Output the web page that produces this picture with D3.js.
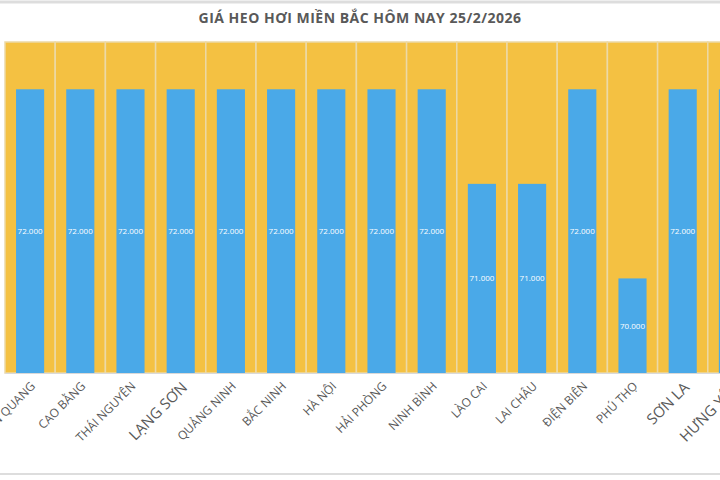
<!DOCTYPE html>
<html>
<head>
<meta charset="utf-8">
<script src="https://cdnjs.cloudflare.com/ajax/libs/d3/7.8.5/d3.min.js"></script>
<style>
  body { margin: 0; background: #fff; }
  svg { display: block; font-family: "Open Sans", "Noto Sans", sans-serif; }
</style>
</head>
<body>
<div id="chart"></div>
<script>
    const title = "GIÁ HEO HƠI MIỀN BẮC HÔM NAY 25/2/2026";
    const provinces = ["TUYÊN QUANG", "CAO BẰNG", "THÁI NGUYÊN", "LẠNG SƠN", "QUẢNG NINH",
        "BẮC NINH", "HÀ NỘI", "HẢI PHÒNG", "NINH BÌNH", "LÀO CAI", "LAI CHÂU",
        "ĐIỆN BIÊN", "PHÚ THỌ", "SƠN LA", "HƯNG YÊN"];
    const prices = [72000, 72000, 72000, 72000, 72000, 72000, 72000, 72000, 72000,
        71000, 71000, 72000, 70000, 72000, 72000];
    const bigLabels = ["LẠNG SƠN", "SƠN LA", "HƯNG YÊN"];

    const width = 720, height = 480;
    const svg = d3.select("#chart").append("svg")
        .attr("width", width).attr("height", height);

    // spreadsheet grid hints
    svg.append("line").attr("x1", 0).attr("x2", width).attr("y1", 2).attr("y2", 2)
        .attr("stroke", "#ddd").attr("stroke-width", 3);
    svg.append("line").attr("x1", 0).attr("x2", width).attr("y1", 474).attr("y2", 474)
        .attr("stroke", "#ddd").attr("stroke-width", 2);

    const plotTop = 42, plotBottom = 373, plotLeft = 5;
    const x = d3.scaleBand().domain(provinces).range([plotLeft, plotLeft + provinces.length * 50.2]);
    const y = d3.scaleLinear().domain([69000, 72500]).range([plotBottom, plotTop]);

    svg.append("text").attr("x", 360).attr("y", 23).attr("text-anchor", "middle")
        .attr("font-size", 14).attr("font-weight", "bold").attr("fill", "#595959")
        .attr("letter-spacing", 0.5).text(title);

    const g = svg.append("g");
    g.selectAll("rect.bg").data(provinces).join("rect")
        .attr("class", "bg")
        .attr("x", d => x(d)).attr("y", plotTop)
        .attr("width", x.bandwidth()).attr("height", plotBottom - plotTop)
        .attr("fill", "#f4c142").attr("stroke", "#ecd9a6").attr("stroke-width", 1.5);

    const bw = x.bandwidth() * 0.56;
    g.selectAll("rect.bar").data(provinces).join("rect")
        .attr("class", "bar")
        .attr("x", d => x(d) + (x.bandwidth() - bw) / 2)
        .attr("y", (d, i) => y(prices[i]))
        .attr("width", bw)
        .attr("height", (d, i) => plotBottom - y(prices[i]))
        .attr("fill", "#4aa9e8");

    g.selectAll("text.val").data(provinces).join("text")
        .attr("class", "val")
        .attr("x", d => x(d) + x.bandwidth() / 2)
        .attr("y", (d, i) => (y(prices[i]) + plotBottom) / 2 + 3)
        .attr("text-anchor", "middle").attr("font-size", 8).attr("fill", "#fff")
        .text((d, i) => d3.format(",")(prices[i]).replace(/,/g, "."));

    const xAxis = svg.append("g").attr("transform", `translate(0,${plotBottom})`)
        .call(d3.axisBottom(x).tickSize(0).tickPadding(0));
    xAxis.select(".domain").attr("stroke", "#d9d9d9");
    xAxis.selectAll("text")
        .attr("font-family", "Open Sans, sans-serif")
        .attr("font-size", d => bigLabels.includes(d) ? 15 : 12)
        .attr("fill", "#595959")
        .attr("text-anchor", "end")
        .attr("dy", "0.7em")
        .attr("transform", "translate(0,8) rotate(-45)")
        .attr("y", 0).attr("x", 0);
</script>
</body>
</html>
